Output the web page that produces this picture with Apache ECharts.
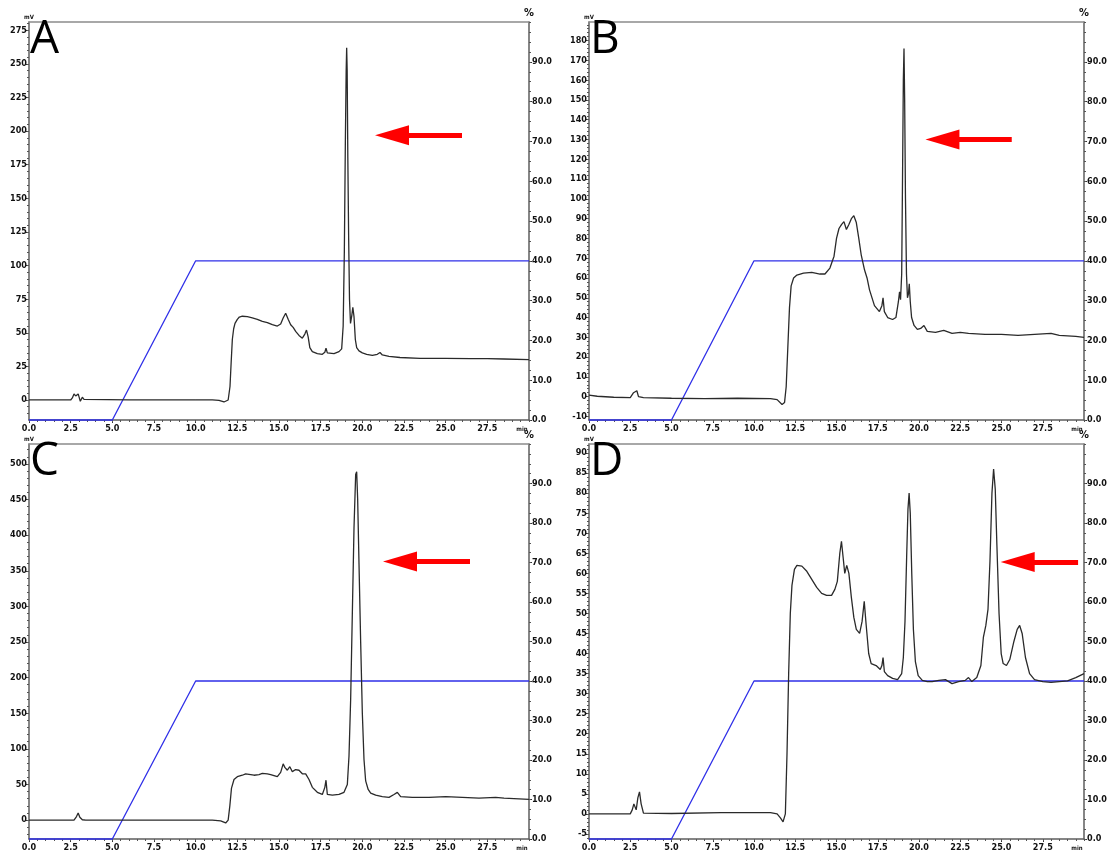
<!DOCTYPE html>
<html>
<head>
<meta charset="utf-8">
<script src="https://cdn.jsdelivr.net/npm/echarts@6/dist/echarts.min.js"></script>
<style>
html,body{margin:0;padding:0;background:#fff;}
#chart{width:1110px;height:852px;}
</style>
</head>
<body>
<div id="chart"></div>
<script>
// ---------- DATA ----------
const PANEL_LABELS = ['A', 'B', 'C', 'D'];

// time (min), signal (mV)
const traceA = [[0,0],[2.5,0],[2.6,1.5],[2.7,4.5],[2.8,3],[2.88,2],[2.95,4.5],[3.0,4],[3.08,-1],[3.2,2],[3.3,0.5],[3.4,0],[6,0],[8,0.1],[10,0],[11,0],[11.4,-0.3],[11.7,-1.5],[11.82,-2.2],[11.95,0],[12.06,10],[12.13,28],[12.2,45],[12.28,53],[12.36,57],[12.5,60],[12.62,61.7],[12.8,62.3],[13.1,62],[13.4,61],[13.7,60],[14.0,58.5],[14.3,57.5],[14.6,56],[14.9,55],[15.1,56.5],[15.25,61],[15.4,64.5],[15.55,60],[15.7,56],[15.85,54],[16.0,51],[16.2,48],[16.4,46],[16.55,49],[16.65,52],[16.75,47],[16.85,39],[17.0,36],[17.3,34.5],[17.6,34],[17.75,35.5],[17.82,38.5],[17.9,35],[18.0,34],[18.3,34.5],[18.6,36],[18.76,38],[18.85,55],[18.92,110],[18.98,190],[19.03,245],[19.06,262],[19.09,245],[19.13,180],[19.18,120],[19.23,75],[19.29,57],[19.32,56],[19.37,63],[19.43,69],[19.5,62],[19.58,45],[19.66,39],[19.8,36.5],[20.0,35],[20.26,34],[20.6,33.2],[20.9,34],[21.06,35.3],[21.2,33.5],[21.6,32.5],[22.26,31.6],[23.46,31],[25,31],[26.5,30.8],[27.5,30.8],[28.5,30.5],[30,30]];

const traceB = [[0,0.8],[0.5,0.2],[1.5,-0.3],[2.5,-0.5],[2.6,0.5],[2.7,2],[2.8,1],[2.9,3],[3.0,0],[3.1,1],[3.3,-0.5],[5,-0.8],[7,-1],[9,-0.8],[11,-1],[11.4,-1.5],[11.7,-4],[11.85,-3],[11.95,5],[12.05,25],[12.15,45],[12.25,56],[12.4,60],[12.6,61.5],[13.0,62.5],[13.5,62.8],[14.0,62],[14.3,62],[14.6,65],[14.85,71],[15.0,80],[15.15,85],[15.3,87],[15.45,88.5],[15.6,84.5],[15.75,87],[15.9,90],[16.05,91.5],[16.2,88],[16.35,80],[16.5,71.5],[16.7,64],[16.85,60],[17.0,54],[17.3,46],[17.6,43],[17.75,46],[17.82,50],[17.9,43],[18.1,40],[18.4,39],[18.6,40],[18.75,48],[18.82,53],[18.88,49],[18.95,62],[19.0,110],[19.05,160],[19.09,176],[19.13,150],[19.18,100],[19.24,62],[19.3,50],[19.36,52],[19.41,57],[19.47,48],[19.55,40],[19.7,36],[19.9,34],[20.1,34.5],[20.3,36],[20.5,33],[21,32.5],[21.5,33.5],[22,32],[22.5,32.5],[23,32],[24,31.5],[25,31.5],[26,31],[27,31.5],[28,32],[28.5,31],[29.5,30.5],[30,30]];

const traceC = [[0,0],[2.7,0],[2.85,5],[2.95,10],[3.05,4],[3.2,0.5],[3.4,0],[8,0],[11,0],[11.5,-1],[11.8,-4],[11.95,0],[12.05,20],[12.15,45],[12.3,57],[12.5,61],[12.8,63],[13.0,65],[13.3,64],[13.5,63],[13.8,64],[14.0,65.5],[14.3,65],[14.5,64],[14.9,61],[15.1,67],[15.25,79],[15.35,74],[15.5,70],[15.65,75],[15.8,68],[16.0,71],[16.2,70],[16.4,65],[16.6,65],[16.8,57],[17.0,46],[17.3,39],[17.6,36],[17.75,46],[17.82,56],[17.9,36],[18.2,35],[18.6,36],[18.9,39],[19.1,50],[19.2,90],[19.3,170],[19.4,290],[19.5,410],[19.6,485],[19.66,489],[19.72,450],[19.8,360],[19.9,250],[20.0,150],[20.1,85],[20.2,55],[20.35,43],[20.5,38],[20.8,35],[21.2,33],[21.6,32],[21.9,36],[22.1,39],[22.3,33],[23,32],[24,32],[25,33],[26,32],[27,31],[28,32],[28.5,31],[30,29]];

const traceD = [[0,0],[2.5,0],[2.62,1],[2.72,2.5],[2.86,1],[2.96,4],[3.06,5.5],[3.16,2.5],[3.3,0.2],[5,0.1],[8,0.3],[10,0.3],[11,0.3],[11.4,0],[11.6,-1],[11.76,-2],[11.9,0],[12.0,15],[12.1,35],[12.2,50],[12.3,57],[12.45,61],[12.6,62],[12.9,61.8],[13.2,60.5],[13.5,58.5],[13.8,56.5],[14.1,55],[14.4,54.5],[14.7,54.5],[14.9,56],[15.05,58],[15.2,65],[15.3,68],[15.4,64],[15.5,60],[15.62,62],[15.75,60],[15.9,54],[16.05,49],[16.2,46],[16.4,45],[16.55,48],[16.68,53],[16.8,47],[16.95,40],[17.1,37.5],[17.4,37],[17.65,36],[17.75,37],[17.82,39],[17.9,35.5],[18.1,34.5],[18.4,33.8],[18.7,33.5],[18.95,35],[19.05,39],[19.15,48],[19.25,64],[19.33,76],[19.4,80],[19.47,75],[19.56,60],[19.66,46],[19.78,38],[19.95,34.5],[20.2,33.3],[20.5,33],[20.8,33],[21.2,33.3],[21.6,33.5],[22.0,32.5],[22.4,33],[22.8,33.3],[23.0,34],[23.2,33],[23.5,34],[23.75,37],[23.9,44],[24.05,47],[24.18,51],[24.3,63],[24.42,80],[24.52,86],[24.62,81],[24.72,67],[24.85,50],[24.98,40],[25.1,37.5],[25.3,37],[25.5,38.5],[25.75,43],[25.95,46],[26.1,47],[26.25,45],[26.45,39],[26.7,35],[27.0,33.5],[27.5,33],[28,32.8],[28.5,33],[29,33.2],[29.5,34],[30,35]];

// gradient programme (%B)
const gradTime = [0, 5, 10, 30];
const gradPct  = [0, 0, 40, 40];

// arrows: [head x, tail x, y] in data units of each panel
const arrowA = [21.78, 25.98, 197];
const arrowB = [21.42, 25.62, 130];
const arrowC = [22.26, 26.46, 363];
const arrowD = [25.98, 29.64, 62.8];

// tick labels
const xTicks   = [0, 2.5, 5, 7.5, 10, 12.5, 15, 17.5, 20, 22.5, 25, 27.5];
const pctTicks = [0, 10, 20, 30, 40, 50, 60, 70, 80, 90];
const yTicksA  = [0, 25, 50, 75, 100, 125, 150, 175, 200, 225, 250, 275];
const yTicksB  = [-10, 0, 10, 20, 30, 40, 50, 60, 70, 80, 90, 100, 110, 120, 130, 140, 150, 160, 170, 180];
const yTicksC  = [0, 50, 100, 150, 200, 250, 300, 350, 400, 450, 500];
const yTicksD  = [-5, 0, 5, 10, 15, 20, 25, 30, 35, 40, 45, 50, 55, 60, 65, 70, 75, 80, 85, 90];

// ---------- LAYOUT ----------
function steps(a, b, s) { const r = []; for (let v = a; v <= b + 1e-9; v += s) r.push(Math.round(v * 1000) / 1000); return r; }

const panels = [
  { trace: traceA, arrow: arrowA, left: 29,  top: 22,  yMin: -14.9, yMax: 281.2, yTicks: yTicksA, yMinorStep: 5,  yMinorFrom: -10 },
  { trace: traceB, arrow: arrowB, left: 589, top: 22,  yMin: -11.8, yMax: 189.4, yTicks: yTicksB, yMinorStep: 2,  yMinorFrom: -10 },
  { trace: traceC, arrow: arrowC, left: 29,  top: 444, yMin: -26.5, yMax: 527.9, yTicks: yTicksC, yMinorStep: 10, yMinorFrom: -20 },
  { trace: traceD, arrow: arrowD, left: 589, top: 444, yMin: -6.26, yMax: 92.25, yTicks: yTicksD, yMinorStep: 1,  yMinorFrom: -6 }
];

const FONT = '"Liberation Sans Narrow", "DejaVu Sans Condensed", "Liberation Sans", sans-serif';
const AX = '#5e5e5e';
const LBL = { fontFamily: FONT, fontSize: 9, fontWeight: 'bold', color: '#111' };
const NOLINE = { show: false, onZero: false };

const grid = [], xAxis = [], yAxis = [], series = [], title = [];
const xMinor = steps(0, 30, 0.5);
const pMinor = steps(0, 100, 2.5);

panels.forEach((p, i) => {
  grid.push({ left: p.left, top: p.top, width: 500, height: 398 });
  title.push({ text: PANEL_LABELS[i], left: p.left + 1, top: p.top - 5, padding: 0,
    textStyle: { fontFamily: '"Open Sans", "Noto Sans", sans-serif', fontSize: 46, fontWeight: 'normal', color: '#000' } });

  // x axes: main, minor ticks, top border
  xAxis.push({ gridIndex: i, type: 'value', position: 'bottom', min: 0, max: 30,
    axisLine: { show: true, onZero: false, lineStyle: { color: AX, width: 1.5 } },
    axisTick: { show: true, length: 3, customValues: xTicks, lineStyle: { color: '#333' } },
    axisLabel: Object.assign({}, LBL, { margin: 4, customValues: xTicks.concat([30]),
      formatter: v => v === 30 ? '{m|min}' : v.toFixed(1),
      rich: { m: { fontFamily: FONT, fontSize: 6, fontWeight: 'bold', color: '#111', padding: [2, 14, 0, 0] } } }),
    splitLine: { show: false } });
  xAxis.push({ gridIndex: i, type: 'value', position: 'bottom', min: 0, max: 30,
    axisLine: NOLINE, axisTick: { show: true, length: 2, customValues: xMinor, lineStyle: { color: '#555' } },
    axisLabel: { show: false }, splitLine: { show: false } });
  xAxis.push({ gridIndex: i, type: 'value', position: 'top', min: 0, max: 30,
    axisLine: { show: true, onZero: false, lineStyle: { color: '#8c8c8c', width: 1.5 } },
    axisTick: { show: false }, axisLabel: { show: false }, splitLine: { show: false } });

  // y axes: left main, left minor, right main, right minor
  yAxis.push({ gridIndex: i, type: 'value', position: 'left', min: p.yMin, max: p.yMax,
    axisLine: { show: true, onZero: false, lineStyle: { color: AX, width: 1.5 } },
    axisTick: { show: true, length: 3, customValues: p.yTicks, lineStyle: { color: '#333' } },
    axisLabel: Object.assign({}, LBL, { margin: 2, customValues: p.yTicks, formatter: v => String(v) }),
    splitLine: { show: false },
    name: 'mV', nameLocation: 'end', nameGap: 2,
    nameTextStyle: { fontFamily: FONT, fontSize: 6, fontWeight: 'bold', color: '#111' } });
  yAxis.push({ gridIndex: i, type: 'value', position: 'left', min: p.yMin, max: p.yMax,
    axisLine: NOLINE, axisTick: { show: true, length: 2, customValues: steps(p.yMinorFrom, p.yMax, p.yMinorStep), lineStyle: { color: '#555' } },
    axisLabel: { show: false }, splitLine: { show: false } });
  yAxis.push({ gridIndex: i, type: 'value', position: 'right', min: 0, max: 100,
    axisLine: { show: true, onZero: false, lineStyle: { color: AX, width: 1.5 } },
    axisTick: { show: true, length: 3, customValues: pctTicks, lineStyle: { color: '#333' } },
    axisLabel: Object.assign({}, LBL, { margin: 3, customValues: pctTicks, formatter: v => v.toFixed(1) }),
    splitLine: { show: false },
    name: '%', nameLocation: 'end', nameGap: 3,
    nameTextStyle: { fontFamily: FONT, fontSize: 11, fontWeight: 'bold', color: '#111' } });
  yAxis.push({ gridIndex: i, type: 'value', position: 'right', min: 0, max: 100,
    axisLine: NOLINE, axisTick: { show: true, length: 2, customValues: pMinor, lineStyle: { color: '#555' } },
    axisLabel: { show: false }, splitLine: { show: false } });

  series.push({ type: 'line', xAxisIndex: 3 * i + 0, yAxisIndex: 4 * i + 2, data: gradTime.map((t, k) => [t, gradPct[k]]),
    showSymbol: false, clip: false, lineStyle: { color: '#2f2fe8', width: 1.3 }, z: 3, animation: false });
  series.push({ type: 'line', xAxisIndex: 3 * i + 0, yAxisIndex: 4 * i + 0, data: p.trace,
    showSymbol: false, lineStyle: { color: '#2a2a2a', width: 1.3 }, z: 4, animation: false,
    markLine: { silent: true, animation: false, symbol: ['triangle', 'none'], symbolSize: [20, 34],
      label: { show: false },
      lineStyle: { color: '#ff0000', width: 5, type: 'solid' },
      itemStyle: { color: '#ff0000' },
      data: [[{ coord: [p.arrow[0], p.arrow[2]] }, { coord: [p.arrow[1], p.arrow[2]] }]] } });
});

const chart = echarts.init(document.getElementById('chart'), null, { renderer: 'canvas' });
chart.setOption({ animation: false, backgroundColor: '#fff', title, grid, xAxis, yAxis, series });
</script>
</body>
</html>
